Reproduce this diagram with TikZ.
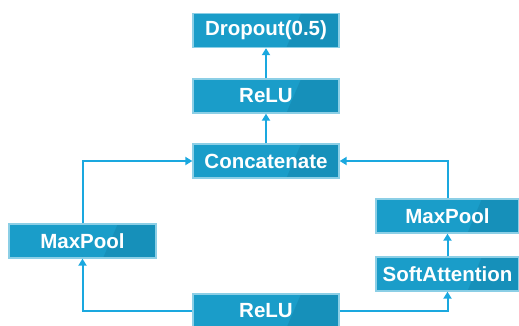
\documentclass[tikz,border=0pt]{standalone}
\usepackage{fontspec}
\setmainfont{Liberation Sans}
\usepackage{tikz}
\usetikzlibrary{arrows.meta,calc,positioning}

\definecolor{boxfill}{HTML}{1A9DC9}
\definecolor{boxdark}{HTML}{1690BA}
\definecolor{boxline}{HTML}{8CCFE6}
\definecolor{wire}{HTML}{1AA8DF}

\begin{document}
\begin{tikzpicture}[x=1pt, y=-1pt]
			\tikzstyle{Layer}	= [rectangle, fill=boxfill, draw=boxline, line width=1.3pt, minimum height=34pt, inner sep=0pt,
						   text=white, font=\fontsize{20.5}{24}\selectfont\bfseries,
						   path picture={\fill[boxdark] ($(path picture bounding box.south west)!0.64!(path picture bounding box.south east)$)
						   -- ($(path picture bounding box.north west)!0.74!(path picture bounding box.north east)$)
						   -- (path picture bounding box.north east) -- (path picture bounding box.south east) -- cycle;}]
			\tikzstyle{Flow}	= [wire, line width=2pt, -{Triangle[length=7pt, width=8pt]}]
			
			\useasboundingbox (0,0) rectangle (519,325);
			
			\node (drop) at (266, 30.5) [Layer, minimum width=146pt] {Dropout(0.5)};
			\node (reluB) at (266, 96) [Layer, minimum width=146pt] {ReLU};
			\node (concat) at (266, 161) [Layer, minimum width=146pt] {Concatenate};
			\node (poolL) at (82.5, 241) [Layer, minimum width=147pt] {MaxPool};
			\node (poolR) at (447.5, 216) [Layer, minimum width=143pt] {MaxPool};
			\node (attn) at (447.5, 274) [Layer, minimum width=143pt] {SoftAttention};
			\node (reluA) at (266, 311) [Layer, minimum width=146pt] {ReLU};
			
			\draw [Flow] (reluA.west) -| (poolL.south);
			\draw [Flow] (poolL.north) |- (concat.west);
			\draw [Flow] (reluA.east) -| (attn.south);
			\draw [Flow] (attn.north) -- (poolR.south);
			\draw [Flow] (poolR.north) |- (concat.east);
			\foreach \a/\b in {concat/reluB, reluB/drop}
				\draw [Flow] (\a) -- (\b);
		\end{tikzpicture}
\end{document}
